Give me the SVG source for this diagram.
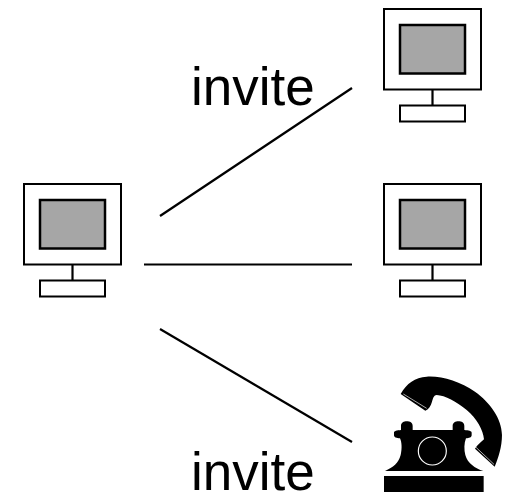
<svg xmlns="http://www.w3.org/2000/svg" width="508" height="492" viewBox="0 0 508 492">
<defs>
<style>
.o{fill:#fff;stroke:#000;stroke-width:2}
.s{fill:#a6a6a6;stroke:#000;stroke-width:2.500}
.c{fill:none;stroke:#000;stroke-width:2.200}
.t{font-family:"Liberation Sans",Arial,sans-serif;font-size:53px;fill:#000}
</style>
<g id="pc">
<rect class="o" x="24" y="184" width="97" height="80.500"/>
<rect class="s" x="40" y="200" width="65" height="48.500"/>
<path class="c" d="M72.500 264.500V280.500"/>
<rect class="o" x="40" y="280.500" width="65" height="16"/>
</g>
</defs>
<rect width="508" height="492" fill="#fff"/>
<g id="connectors">
<path class="c" d="M160 216L352 88"/>
<path class="c" d="M144 264.500H352"/>
<path class="c" d="M160 329L352 442"/>
</g>
<g id="caller"><use href="#pc"/></g>
<g id="callee-1"><use href="#pc" x="360" y="-175"/></g>
<g id="callee-2"><use href="#pc" x="360"/></g>
<g id="phone" transform="translate(370 370) scale(.3333)">
<rect x="42" y="318" width="299" height="49" fill="#000"/>
<path fill="#000" d="M45 303C70 292 85 280 92 255C97 235 95 215 90 205C80 204 72 203 72 195V188C72 183 80 181 93 180V168C93 158 102 154 110 154C120 154 128 158 128 168V180H248V168C248 158 257 154 265 154C275 154 283 158 283 168V180C296 181 305 183 305 188V195C305 203 297 204 288 205C282 220 282 240 286 255C293 280 315 295 340 303Z"/>
<circle cx="187" cy="243" r="42" fill="none" stroke="#fff" stroke-width="3.500"/>
<path fill="#000" d="M92 72C110 40 135 22 170 20C215 17 270 35 315 65C360 97 395 145 396 195C396 230 385 265 374 290L315 236C322 225 332 218 342 208C340 180 320 145 290 120C260 95 225 76 200 75C192 75 189 85 186 95C183 108 175 118 166 122Z"/>
<path stroke="#fff" stroke-width="2" fill="none" d="M100 72L170 115M318 232L372 283"/>
</g>
<text id="label-top" class="t" x="191" y="105">invite</text>
<text id="label-bottom" class="t" x="191" y="490">invite</text>
</svg>
